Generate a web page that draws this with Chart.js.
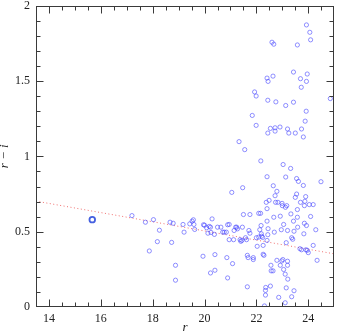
<!DOCTYPE html>
<html>
<head>
<meta charset="utf-8">
<script src="https://cdn.jsdelivr.net/npm/chart.js@4.4.0/dist/chart.umd.min.js"></script>
<style>
  body { margin: 0; background: #fff; }
  canvas { display: block; }
</style>
</head>
<body>
<canvas id="chart" width="340" height="332"></canvas>
<script>
// r vs r-i colour-magnitude scatter with a fitted trend line

// sources (r, r-i)
const rVals = [
  17.2, 17.72, 18.03, 18.26, 18.18, 17.87,
  18.67, 18.79, 18.73, 18.88, 18.88, 19.17, 19.21, 19.43, 19.52, 19.57, 19.59, 19.62,
  19.94, 19.96, 20.0, 20.08, 20.13, 20.18, 20.23, 20.25, 20.29, 20.23, 20.40, 20.40,
  20.38, 20.5, 20.63, 20.70, 20.76, 20.84, 20.86, 20.89, 20.89, 20.95, 20.95, 21.08,
  21.12, 21.14, 21.20, 21.24, 21.27, 21.37, 21.4, 21.44, 21.46, 21.5, 21.58, 21.62,
  21.65, 21.68, 21.65, 21.71, 21.75, 21.75, 21.88, 21.88, 22.0, 22.03, 22.09, 22.16,
  22.09, 22.13, 22.18, 22.19, 22.2, 22.24, 22.26, 22.26, 22.29, 22.35, 22.36, 22.35,
  22.31, 22.41, 22.44, 22.45, 22.41, 22.41, 22.38, 22.54, 22.56, 22.57, 22.64, 22.67,
  22.69, 22.79, 22.86, 22.83, 22.99, 23.0, 22.92, 22.96, 22.92, 22.98, 23.02, 23.05,
  23.05, 23.11, 23.15, 23.15, 23.11, 23.17, 23.2, 23.2, 23.2, 23.21, 23.33, 23.36,
  23.4, 23.36, 23.43, 23.45, 23.45, 23.58, 23.59, 23.68, 23.74, 23.7, 23.83, 23.85,
  23.85, 23.87, 23.91, 23.93, 23.96, 24.0, 24.04, 24.09, 24.19, 24.19, 24.29, 24.34,
  23.58, 22.74,
  23.93, 24.06, 24.09, 22.6, 22.67, 23.58, 23.43, 23.96, 22.41, 22.45, 22.64, 23.7,
  23.93, 23.73, 21.93, 21.99, 22.44, 22.75, 23.43, 23.13, 24.85, 23.92, 21.84, 23.88,
  21.99, 22.54, 22.72, 22.91, 22.72, 22.44, 23.2, 23.25, 23.5, 23.74, 23.81, 21.33,
  21.55, 22.17, 23.03, 23.32, 22.41, 23.13, 23.55, 23.62, 22.65, 23.81, 24.49, 21.47,
  21.05, 22.79, 22.72, 23.55, 23.9, 23.5, 22.49, 23.12
];
const riVals = [
  0.607, 0.563, 0.58, 0.51, 0.434, 0.372,
  0.563, 0.556, 0.429, 0.277, 0.178, 0.548, 0.497, 0.552, 0.570, 0.579, 0.548, 0.515,
  0.337, 0.546, 0.543, 0.526, 0.49, 0.535, 0.53, 0.495, 0.585, 0.226, 0.244, 0.348,
  0.482, 0.53, 0.53, 0.497, 0.497, 0.497, 0.328, 0.193, 0.546, 0.548, 0.447, 0.288,
  0.447, 0.508, 0.53, 0.53, 0.519, 0.447, 0.436, 0.442, 0.53, 0.614, 0.46, 0.447,
  0.343, 0.328, 0.134, 0.508, 0.49, 0.614, 0.328, 0.315, 0.46, 0.403, 0.622, 0.622,
  0.464, 0.513, 0.541, 0.486, 0.47, 0.462, 0.409, 0.35, 0.343, 0.11, 0.13, 0.079,
  0.007, 0.442, 0.48, 0.52, 0.57, 0.653, 0.695, 0.139, 0.277, 0.24, 0.24, 0.596,
  0.497, 0.31, 0.064, 0.695, 0.688, 0.673, 0.603, 0.513, 0.277, 0.306, 0.315, 0.249,
  0.548, 0.218, 0.427, 0.127, 0.028, 0.673, 0.508, 0.304, 0.277, 0.185, 0.618, 0.46,
  0.45, 0.068, 0.57, 0.503, 0.108, 0.596, 0.53, 0.387, 0.38, 0.695, 0.486, 0.556,
  0.673, 0.702, 0.38, 0.541, 0.376, 0.361, 0.68, 0.601, 0.68, 0.409, 0.513, 0.31,
  0.647, 0.695,
  1.873, 1.824, 1.774, 1.758, 1.745, 1.74, 1.56, 1.547, 1.52, 1.498, 1.533, 1.516,
  1.498, 1.459, 1.428, 1.401, 1.373, 1.362, 1.36, 1.338, 1.384, 1.30, 1.272, 1.234,
  1.206, 1.186, 1.19, 1.195, 1.168, 1.155, 1.182, 1.155, 1.155, 1.182, 1.129, 1.098,
  1.045, 0.97, 0.946, 0.92, 0.865, 0.863, 0.853, 0.834, 0.805, 0.807, 0.832, 0.792,
  0.761, 0.768, 0.739, 0.75, 0.733, 0.728, 0.708, 0.662
];

// the bright source drawn with a heavier ring
const brightR = [15.67];
const brightRI = [0.58];

// fitted line end points
const fitR = [13.5, 25];
const fitRI = [0.703, 0.353];

// axis ranges and labels
const xRange = [13.5, 25];
const yRange = [0, 2];
const xTicks = [14, 16, 18, 20, 22, 24];
const yTicks = [0, 0.5, 1, 1.5, 2];
const xMinor = 0.5, yMinor = 0.1;

const toPoints = (xs, ys) => xs.map((v, i) => ({ x: v, y: ys[i] }));

const serif = '"Liberation Serif", "DejaVu Serif", serif';

// frame with inward ticks on all four sides
const frameTicks = {
  id: 'frameTicks',
  afterDraw(chart) {
    const { ctx, chartArea: a, scales: { x, y } } = chart;
    ctx.save();
    ctx.strokeStyle = '#3a3a3a';
    ctx.lineWidth = 1;
    const L = Math.round(a.left) + 0.5, R = Math.round(a.right) - 0.5;
    const T = Math.round(a.top) + 0.5, B = Math.round(a.bottom) - 0.5;
    ctx.strokeRect(L, T, R - L, B - T);
    ctx.beginPath();
    const nx = Math.round((xRange[1] - xRange[0]) / xMinor);
    for (let i = 1; i < nx; i++) {
      const v = xRange[0] + i * xMinor;
      const len = xTicks.includes(v) ? 7 : 4;
      const px = Math.round(x.getPixelForValue(v)) + 0.5;
      ctx.moveTo(px, B); ctx.lineTo(px, B - len);
      ctx.moveTo(px, T); ctx.lineTo(px, T + len);
    }
    const ny = Math.round((yRange[1] - yRange[0]) / yMinor);
    for (let i = 1; i < ny; i++) {
      const v = +(yRange[0] + i * yMinor).toFixed(2);
      const len = yTicks.includes(v) ? 7 : 4;
      const py = Math.round(y.getPixelForValue(v)) + 0.5;
      ctx.moveTo(L, py); ctx.lineTo(L + len, py);
      ctx.moveTo(R, py); ctx.lineTo(R - len, py);
    }
    ctx.stroke();
    ctx.restore();
  }
};

new Chart(document.getElementById('chart'), {
  type: 'scatter',
  data: {
    datasets: [
      {
        data: toPoints(rVals, riVals),
        pointStyle: 'circle',
        pointRadius: 2.1,
        pointBorderWidth: 0.8,
        borderColor: 'rgba(70,70,255,0.75)',
        backgroundColor: 'rgba(0,0,0,0)'
      },
      {
        data: toPoints(brightR, brightRI),
        pointRadius: 2.8,
        pointBorderWidth: 1.8,
        borderColor: '#4560e0',
        backgroundColor: 'rgba(0,0,0,0)'
      },
      {
        type: 'line',
        data: toPoints(fitR, fitRI),
        borderColor: '#f07070',
        borderWidth: 1,
        borderDash: [1, 2.5],
        pointRadius: 0
      }
    ]
  },
  options: {
    responsive: false,
    animation: false,
    events: [],
    layout: { padding: { left: 0, right: 0, top: 4, bottom: 0 } },
    plugins: { legend: { display: false }, tooltip: { enabled: false } },
    scales: {
      x: {
        type: 'linear',
        min: xRange[0], max: xRange[1],
        grid: { display: false, drawTicks: false },
        border: { display: false },
        afterBuildTicks: s => { s.ticks = xTicks.map(v => ({ value: v })); },
        afterFit: s => { s.height = 25; s.paddingLeft = 0; s.paddingRight = 0; },
        ticks: { color: '#222', font: { family: serif, size: 12 }, padding: 5, maxRotation: 0, autoSkip: false },
        title: { display: true, text: 'r', color: '#222', font: { family: serif, size: 13, style: 'italic' }, padding: { top: 0, bottom: -3 } }
      },
      y: {
        type: 'linear',
        min: yRange[0], max: yRange[1],
        grid: { display: false, drawTicks: false },
        border: { display: false },
        afterBuildTicks: s => { s.ticks = yTicks.map(v => ({ value: v })); },
        afterFit: s => { s.width = 36; s.paddingTop = 0; s.paddingBottom = 0; },
        ticks: { color: '#222', font: { family: serif, size: 12 }, padding: 6, autoSkip: false, callback: v => String(v) },
        title: { display: true, text: 'r \u2212 i', color: '#222', font: { family: serif, size: 13, style: 'italic' }, padding: { top: -3, bottom: 0 } }
      }
    }
  },
  plugins: [frameTicks]
});
</script>
</body>
</html>
